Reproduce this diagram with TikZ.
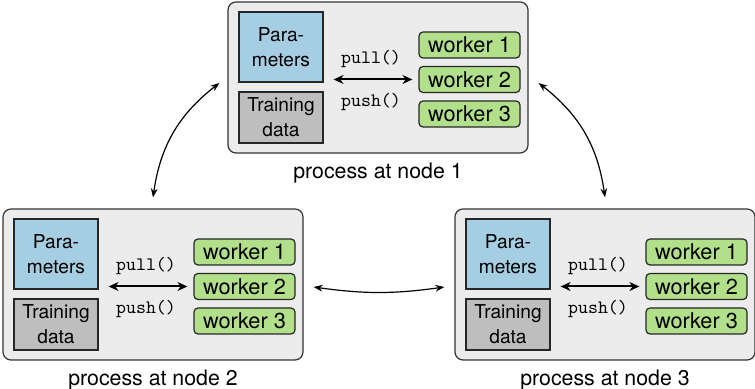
\documentclass[tikz,border=0pt]{standalone}
\usepackage{fontspec}
\setsansfont{TeX Gyre Heros}
\usetikzlibrary{positioning}
\usetikzlibrary{arrows.meta}
\definecolor{parblue}{RGB}{166,206,227}
\definecolor{datgray}{RGB}{190,190,190}
\definecolor{wrkgreen}{RGB}{178,223,138}
\definecolor{procgray}{RGB}{236,236,236}
\tikzset{
    procbox/.style = {rectangle, rounded corners=4pt, draw=black!80, fill=procgray, line width=0.6pt, minimum width=150bp, minimum height=75.5bp},
    parbox/.style = {rectangle, draw=black!85, fill=parblue, line width=0.6pt, inner sep=0pt, minimum width=42bp, minimum height=35bp, align=center, font=\sffamily\fontsize{9.6}{12.5}\selectfont},
    datbox/.style = {parbox, fill=datgray, minimum height=25.5bp},
    worker/.style = {rectangle, rounded corners=2pt, draw=black!85, fill=wrkgreen, line width=0.6pt, inner sep=0pt, minimum width=50.5bp, minimum height=13bp, font=\sffamily\fontsize{10.9}{12}\selectfont},
    caption/.style = {font=\sffamily\fontsize{10.7}{12}\selectfont},
    call/.style = {font=\ttfamily\fontsize{9.5}{11}\selectfont},
    rpc/.style = {{Stealth[length=5pt,width=4.5pt]}-{Stealth[length=5pt,width=4.5pt]}, line width=1pt}, % pull / push
    link/.style = {{Stealth[length=4.5pt]}-{Stealth[length=4.5pt]}, line width=0.6pt}, % between processes
}
% one process: name, x, y, number
\newcommand{\Proc}[4]{%
\begin{scope}[shift={(#2,#3)}]
\node[procbox] at (150,75.5) (#1) {};
\node[parbox] at (53,45) (#1par) {Para-\\meters};
\node[datbox] at (53,115.5) (#1dat) {Training\\data};
\node[worker] at (241.5,43) (#1w1) {worker 1};
\node[worker] at (241.5,77.5) (#1w2) {worker 2};
\node[worker] at (241.5,112) (#1w3) {worker 3};
\draw[rpc, shorten <=5bp, shorten >=3bp] (#1par.east |- #1w2.west) -- (#1w2.west)
    node[call, midway, above=2bp] (#1pull) {pull()}
    node[call, midway, below=3bp] (#1push) {push()};
\node[caption, below=1bp of #1] (#1cap) {process at node #4};
\end{scope}}

\begin{document}
\begin{tikzpicture}[x=0.5bp,y=-0.5bp]
\useasboundingbox (0,0) rectangle (755,389);
\Proc{n1}{228}{2}{1}
\Proc{n2}{3}{209}{2}
\Proc{n3}{455}{209}{3}
%
\draw[link] ([xshift=-4bp,yshift=-2.75bp]n1.west) to[bend right=22] ([yshift=5.5bp]n2.north);
\draw[link] ([xshift=5bp,yshift=-2.75bp]n1.east) to[bend left=22] ([yshift=5.5bp]n3.north);
\draw[link] ([xshift=5bp,yshift=-1.25bp]n2.east) to[bend right=8] ([xshift=-5bp,yshift=-1.25bp]n3.west);

\end{tikzpicture}
\end{document}
